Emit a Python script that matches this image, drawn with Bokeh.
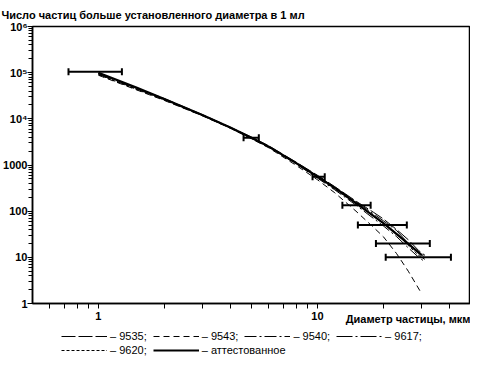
from bokeh.plotting import figure
from bokeh.layouts import column
from bokeh.models import (ColumnDataSource, Whisker, TeeHead, FixedTicker, Legend,
                          LegendItem, Range1d, CustomJSTickFormatter, Title)
from bokeh.embed import file_html
from bokeh.resources import INLINE

chart_title = "Число частиц больше установленного диаметра в 1 мл"
x_title = "Диаметр частицы, мкм"

# particle diameter, um
x_att = [1, 1.5, 2, 3, 4, 5, 6, 8, 10, 12, 15, 20, 25, 30]
y_att = [100000, 47000, 27000, 12000, 6500, 3900, 2500, 1100, 560, 320, 150, 55, 23, 11]

x_ser = [1, 1.5, 2, 3, 4, 5, 6, 8, 10, 12, 15, 18, 20, 23, 26, 29, 31]
y_9535 = [98000, 46000, 27500, 12200, 6600, 4000, 2600, 1150, 600, 340, 165, 95, 68, 40, 24, 14, 11]
y_9540 = [92000, 44000, 26000, 11800, 6400, 3800, 2450, 1050, 520, 290, 135, 70, 48, 28, 16, 10, 8]
y_9617 = [95000, 45000, 26500, 11900, 6450, 3850, 2500, 1120, 580, 330, 160, 88, 62, 38, 20, 13, 10]
y_9620 = [90000, 43000, 25500, 11600, 6300, 3750, 2400, 1080, 540, 300, 145, 78, 55, 33, 18, 11, 9]

x_9543 = [1, 1.5, 2, 3, 4, 5, 6, 8, 10, 12, 15, 18, 20, 23, 26, 30]
y_9543 = [88000, 42000, 25000, 11500, 6300, 3700, 2350, 980, 480, 250, 100, 45, 28, 12, 5, 1.6]

# horizontal error bars
err_y = [105000, 3900, 560, 135, 50, 20, 10]
err_lo = [0.73, 4.6, 9.5, 13.0, 15.3, 18.5, 20.5]
err_hi = [1.28, 5.4, 10.8, 17.5, 25.6, 32.6, 40.7]

legend_row1 = ["– 9535;", "– 9543;", "– 9540;", "– 9617;"]
legend_row2 = ["– 9620;", "– аттестованное"]

dashes = {"9535": "14 3", "9543": "6 4", "9540": "12 3 2 3", "9617": "16 3 2 3", "9620": "3 2"}

FONT = "Liberation Sans"

p = figure(width=470, height=325, x_axis_type="log", y_axis_type="log",
           x_range=Range1d(0.5, 50), y_range=Range1d(1, 1e6),
           output_backend="svg", toolbar_location=None,
           min_border_left=0, min_border_right=0, min_border_top=25, min_border_bottom=22)
p.grid.visible = False
p.outline_line_color = "black"
p.outline_line_width = 1.5
p.background_fill_color = "white"

p.title.text = chart_title
p.title.text_font = FONT
p.title.text_font_size = "11px"
p.title.text_font_style = "bold"
p.title.text_color = "black"
p.title.align = "left"
p.title.offset = -31
p.title.standoff = 12

fmt = CustomJSTickFormatter(code="""
const m = {"10000": "10\u2074", "100000": "10\u2075", "1000000": "10\u2076"};
const k = String(Math.round(tick));
return (k in m) ? m[k] : k;
""")

xa = p.xaxis[0]
xa.ticker = FixedTicker(ticks=[1, 10],
                        minor_ticks=[0.6, 0.7, 0.8, 0.9, 2, 3, 4, 5, 6, 7, 8, 9, 20, 30, 40])
xa.formatter = fmt
xa.major_tick_out = 5
xa.major_tick_in = 0
xa.minor_tick_out = 5
xa.minor_tick_in = 0
xa.major_label_standoff = 3
xa.axis_line_width = 1.5
xa.major_label_text_font = FONT
xa.major_label_text_font_size = "11px"
xa.major_label_text_font_style = "bold"
xa.major_label_text_color = "black"

# x-axis title, set on the same row as the tick labels, flush right
p.add_layout(Title(text=x_title, align="right", vertical_align="top", standoff=-19,
                   offset=0, text_font=FONT, text_font_size="11px",
                   text_font_style="bold", text_color="black"), "below")

ya = p.yaxis[0]
decades = [1, 10, 100, 1000, 10000, 100000, 1000000]
ya.ticker = FixedTicker(ticks=decades,
                        minor_ticks=[m * d for d in decades[:-1] for m in range(2, 10)])
ya.formatter = fmt
ya.major_tick_out = 5
ya.major_tick_in = 0
ya.minor_tick_out = 4
ya.minor_tick_in = 0
ya.major_label_standoff = 0
ya.axis_line_width = 1.5
ya.major_label_text_font = FONT
ya.major_label_text_font_size = "11px"
ya.major_label_text_font_style = "bold"
ya.major_label_text_color = "black"

p.line(x_ser, y_9535, line_color="black", line_width=1, line_dash=dashes["9535"])
p.line(x_9543, y_9543, line_color="black", line_width=1, line_dash=dashes["9543"])
p.line(x_ser, y_9540, line_color="black", line_width=1, line_dash=dashes["9540"])
p.line(x_ser, y_9617, line_color="black", line_width=1, line_dash=dashes["9617"])
p.line(x_ser, y_9620, line_color="black", line_width=1, line_dash=dashes["9620"])
p.line(x_att, y_att, line_color="black", line_width=2.2)

src = ColumnDataSource(dict(y=err_y, lo=err_lo, hi=err_hi))
wh = Whisker(base="y", lower="lo", upper="hi", dimension="width", source=src,
             line_color="black", line_width=2,
             upper_head=TeeHead(size=7, line_width=2, line_color="black"),
             lower_head=TeeHead(size=7, line_width=2, line_color="black"))
p.add_layout(wh)

# legend strip below the chart
q = figure(width=470, height=32, x_range=Range1d(0, 1), y_range=Range1d(0, 1),
           output_backend="svg", toolbar_location=None,
           x_axis_location=None, y_axis_location=None,
           min_border_left=0, min_border_right=0, min_border_top=0, min_border_bottom=0)
q.grid.visible = False
q.outline_line_color = None

# legend sample lines (their data lie outside the strip's visible range)
rl = {}
for key in ["9535", "9543", "9540", "9617", "9620"]:
    rl[key] = q.line([5, 6], [5, 6], line_color="black", line_width=1, line_dash=dashes[key])
rl["att"] = q.line([5, 6], [5, 6], line_color="black", line_width=2.2)

def make_legend(labels, rends, loc, h):
    return Legend(items=[LegendItem(label=l, renderers=[r]) for l, r in zip(labels, rends)],
                  orientation="horizontal", location=loc, glyph_width=46, glyph_height=h,
                  label_standoff=3, spacing=6, padding=0, margin=0,
                  border_line_color=None, background_fill_alpha=0,
                  label_text_font=FONT, label_text_font_size="11px",
                  label_text_color="black", label_height=h)

q.add_layout(make_legend(legend_row1, [rl["9535"], rl["9543"], rl["9540"], rl["9617"]], (29, 14), 14))
q.add_layout(make_legend(legend_row2, [rl["9620"], rl["att"]], (29, 0), 14))

open("out.html", "w").write(file_html(column(p, q), INLINE))
